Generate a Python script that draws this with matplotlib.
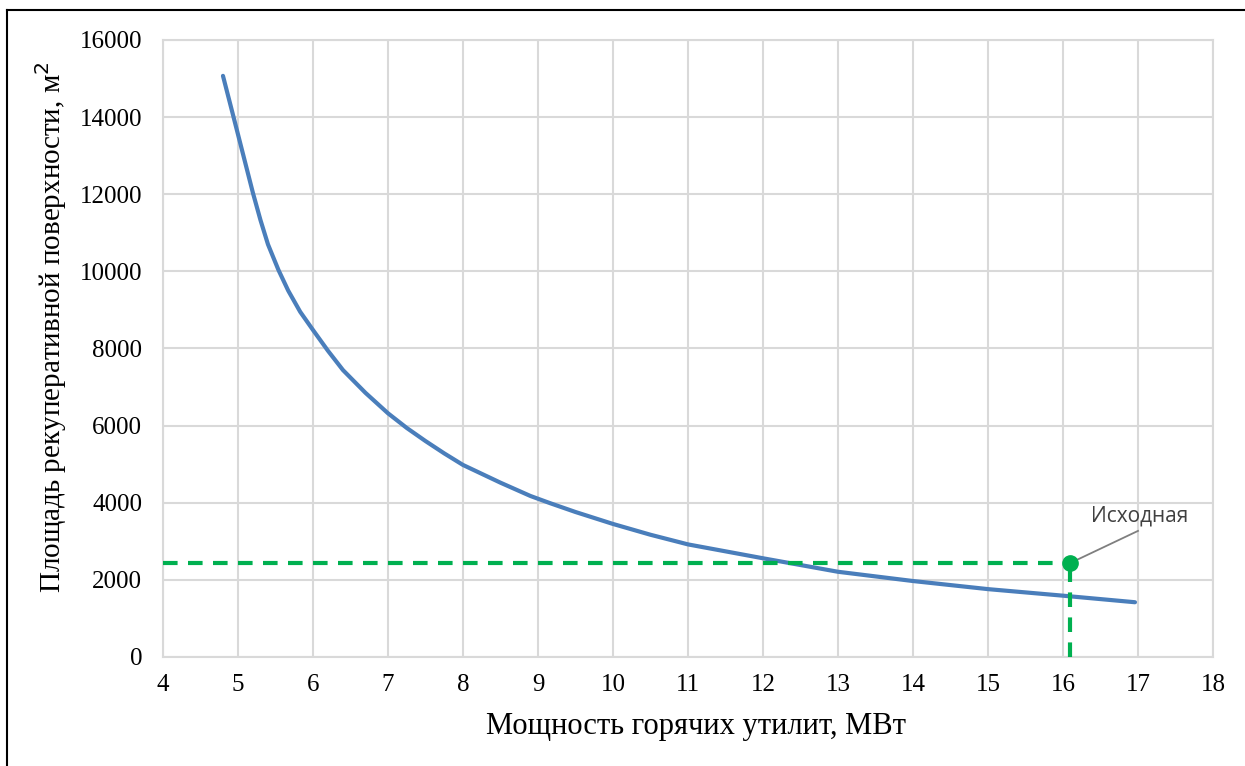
import matplotlib.pyplot as plt
from matplotlib.lines import Line2D

# data
power = [4.8, 4.94, 5.07, 5.2, 5.3, 5.4, 5.54, 5.67, 5.83, 6.0, 6.2, 6.4, 6.7, 7.0,
         7.25, 7.5, 7.75, 8.0, 8.5, 8.9, 9.16, 9.5, 10.0, 10.5, 11.0, 12.0, 13.0,
         14.0, 15.0, 16.0, 16.96]
area = [15070, 14010, 13020, 12030, 11330, 10700, 10035, 9500, 8950, 8480, 7940, 7440,
        6850, 6320, 5940, 5600, 5280, 4980, 4520, 4175, 3990, 3760, 3450, 3170, 2920,
        2560, 2210, 1970, 1760, 1590, 1420]
base_x = 16.1
base_y = 2440
xticks = list(range(4, 19))
yticks = list(range(0, 16001, 2000))

plt.rcParams['font.family'] = ['Liberation Serif', 'DejaVu Serif']

fig = plt.figure(figsize=(12.45, 7.66), dpi=100)
ax = fig.add_axes([0.1309, 0.1423, 0.8434, 0.8055])

ax.plot(power, area, color='#4a7ebb', lw=3, solid_capstyle='round',
        solid_joinstyle='round', zorder=3)
# dashed guide lines to the initial point
ax.plot([4, base_x], [base_y, base_y], color='#00b050', lw=3, ls=(0, (3.5, 2.5)), zorder=4)
ax.plot([base_x, base_x], [0, base_y], color='#00b050', lw=3, ls=(0, (3.5, 2.5)), zorder=4)
ax.plot(base_x, base_y, 'o', color='#00b050', ms=11, zorder=5)

# leader line + label
ax.plot([base_x, 17.0], [base_y, 3270], color='#7f7f7f', lw=1.3, zorder=4)
ax.text(17.02, 3390, 'Исходная', family=['Open Sans', 'DejaVu Sans'], fontsize=15,
        color='#404040', ha='center', va='bottom')

ax.set_xlim(4, 18)
ax.set_ylim(0, 16000)
ax.set_xticks(xticks)
ax.set_yticks(yticks)
ax.grid(True, color='#d9d9d9', lw=1.5)
ax.set_axisbelow(True)
for s in ax.spines.values():
    s.set_color('#d9d9d9')
    s.set_linewidth(1.5)
ax.tick_params(length=0, labelsize=18, colors='black')
ax.tick_params(axis='y', pad=15)
ax.tick_params(axis='x', pad=12)

ax.set_xlabel('Мощность горячих утилит, МВт', fontsize=22)
ax.xaxis.set_label_coords(0.5076, -0.089)
ax.set_ylabel('Площадь рекуперативной поверхности, м$^2$', fontsize=21)
ax.yaxis.set_label_coords(-0.0895, 0.535)

# outer frame (top and left edges only visible)
fig.add_artist(Line2D([7 / 1245, 1.0], [1 - 10 / 766, 1 - 10 / 766], color='black', lw=1.5))
fig.add_artist(Line2D([7 / 1245, 7 / 1245], [0, 1 - 10 / 766], color='black', lw=1.5))

fig.savefig('out.png', dpi=100)
